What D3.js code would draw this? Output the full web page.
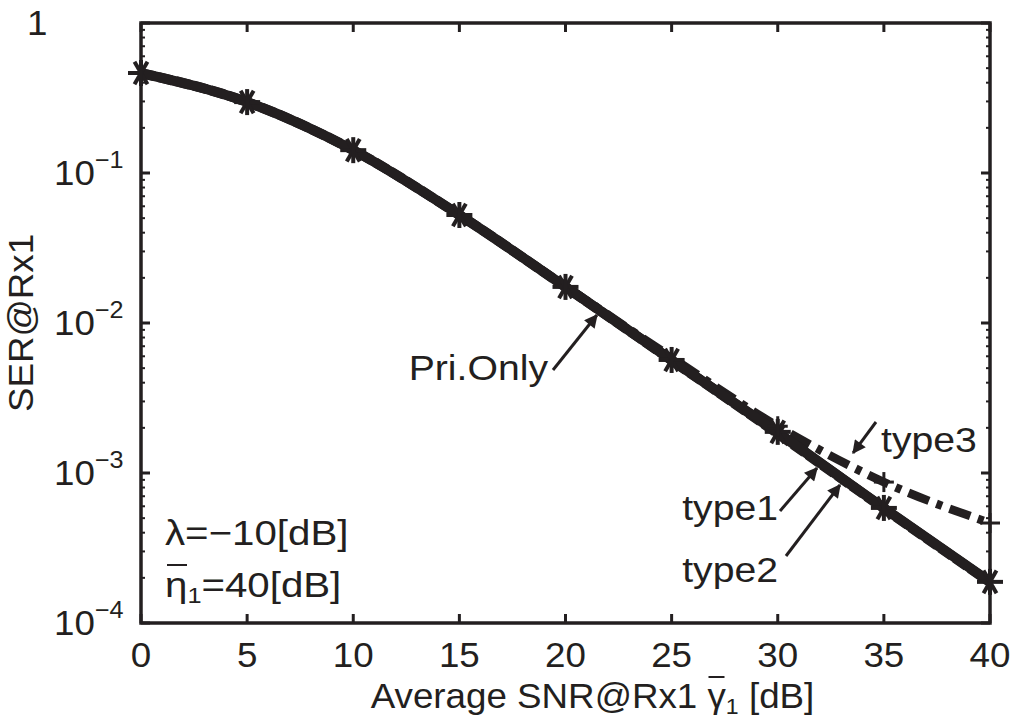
<!DOCTYPE html>
<html>
<head>
<meta charset="utf-8">
<script src="https://cdn.jsdelivr.net/npm/d3@7"></script>
<style>
  body { margin: 0; background: #fff; }
  text { font-family: "Liberation Sans", Arial, sans-serif; fill: #231f20; }
</style>
</head>
<body>
<div class="chart"></div>
<script>
// SER vs average SNR, log y axis

const snr = [0, 5, 10, 15, 20, 25, 30, 35, 40];
const ser_pri = [0.464, 0.297, 0.142, 0.0525, 0.0174, 0.00567, 0.00188, 0.000585, 0.000188];
const ser_type1 = [0.464, 0.297, 0.142, 0.0525, 0.0174, 0.00565, 0.00183, 0.000580, 0.000187];
const ser_type2 = [0.464, 0.297, 0.142, 0.0525, 0.0174, 0.00566, 0.00185, 0.000583, 0.000188];
const ser_type3 = [0.464, 0.297, 0.142, 0.0525, 0.0176, 0.0059, 0.00205, 0.00087, 0.000464];

const x_ticks = [0, 5, 10, 15, 20, 25, 30, 35, 40];
const y_ticks = [1e-4, 1e-3, 1e-2, 1e-1, 1];
const y_tick_exp = ['−4', '−3', '−2', '−1', ''];

const FS = '35px';
const ink = '#231f20';

// text that is a bit wider than Arial, like the original's font
function wide_text(parent, x, y, anchor, sx) {
   return parent.append('g')
      .attr('transform', `translate(${x}, ${y}) scale(${sx}, 1)`)
      .append('text')
      .attr('text-anchor', anchor)
      .style('font-size', FS);
}

function build_container(margin) {
   return d3.select('.chart')
      .append('svg')
      .attr('width', 1021)
      .attr('height', 720)
      .append('g')
      .attr('transform', `translate(${margin.left}, ${margin.top})`);
}

function draw_frame(svg, x, y, width, height) {
   // minor y ticks
   const minor = [];
   for (let k = -4; k < 0; k++) {
      for (let m = 2; m <= 9; m++) minor.push(m * Math.pow(10, k));
   }
   [[0, 4], [width, width - 4]].forEach(([a, b]) => {
      svg.append('g').selectAll('line')
         .data(minor)
         .enter()
         .append('line')
         .attr('x1', a).attr('x2', b)
         .attr('y1', d => y(d)).attr('y2', d => y(d))
         .style('stroke', ink).style('stroke-width', 2);
   });

   // major ticks
   [[0, 9], [width, width - 9]].forEach(([a, b]) => {
      svg.append('g').selectAll('line')
         .data(y_ticks)
         .enter()
         .append('line')
         .attr('x1', a).attr('x2', b)
         .attr('y1', d => y(d)).attr('y2', d => y(d))
         .style('stroke', ink).style('stroke-width', 3);
   });
   [[height, height - 9], [0, 9]].forEach(([a, b]) => {
      svg.append('g').selectAll('line')
         .data(x_ticks)
         .enter()
         .append('line')
         .attr('x1', d => x(d)).attr('x2', d => x(d))
         .attr('y1', a).attr('y2', b)
         .style('stroke', ink).style('stroke-width', 3);
   });

   svg.append('rect')
      .attr('width', width)
      .attr('height', height)
      .style('fill', 'none')
      .style('stroke', ink)
      .style('stroke-width', 3.5);

   // tick labels
   x_ticks.forEach(d => {
      wide_text(svg, x(d), height + 44, 'middle', 1.05).text(d);
   });

   y_ticks.forEach((d, i) => {
      if (d === 1) {
         wide_text(svg, -114, y(d) + 12, 'start', 1.05).text('1');
      } else {
         const t = wide_text(svg, -87, y(d) + 12, 'start', 1.05);
         t.append('tspan').text('10');
         t.append('tspan')
            .attr('dy', -17)
            .style('font-size', '24px')
            .text(y_tick_exp[i]);
      }
   });
}

function draw_lines(svg, x, y) {
   const line = d3.line()
      .x((d, i) => x(snr[i]))
      .y(d => y(d))
      .curve(d3.curveMonotoneX);

   const series = [
      {name: 'type3', values: ser_type3, dash: '22,8,6,8', width: 8.5},
      {name: 'type2', values: ser_type2, dash: null, width: 10},
      {name: 'type1', values: ser_type1, dash: '14,4', width: 10},
      {name: 'Pri.Only', values: ser_pri, dash: null, width: 9},
   ];

   svg.append('g').selectAll('path')
      .data(series)
      .enter()
      .append('path')
      .attr('d', d => line(d.values))
      .style('fill', 'none')
      .style('stroke', ink)
      .style('stroke-width', d => d.width)
      .style('stroke-dasharray', d => d.dash);

   // '*' markers on Pri.Only
   const star = svg.append('g');
   snr.forEach((s, i) => {
      const cx = x(s), cy = y(ser_pri[i]), r = 13;
      [0, 60, 120].forEach(a => {
         const rad = a * Math.PI / 180;
         star.append('line')
            .attr('x1', cx - r * Math.cos(rad)).attr('y1', cy - r * Math.sin(rad))
            .attr('x2', cx + r * Math.cos(rad)).attr('y2', cy + r * Math.sin(rad))
            .style('stroke', ink).style('stroke-width', 4);
      });
      star.append('line')
         .attr('x1', cx).attr('y1', cy - r)
         .attr('x2', cx).attr('y2', cy + r)
         .style('stroke', ink).style('stroke-width', 4);
   });

   // '+' markers on type3
   const plus = svg.append('g');
   snr.slice(6).forEach((s, j) => {
      const i = j + 6;
      const cx = x(s), cy = y(ser_type3[i]), r = 10;
      plus.append('line')
         .attr('x1', cx - r).attr('x2', cx + r)
         .attr('y1', cy).attr('y2', cy)
         .style('stroke', ink).style('stroke-width', 3);
      plus.append('line')
         .attr('x1', cx).attr('x2', cx)
         .attr('y1', cy - r).attr('y2', cy + r)
         .style('stroke', ink).style('stroke-width', 3);
   });
}

function add_annotations(svg, x, y, width, height) {
   svg.append('defs').append('marker')
      .attr('id', 'arrow')
      .attr('viewBox', '0 0 10 10')
      .attr('refX', 9).attr('refY', 5)
      .attr('markerWidth', 5).attr('markerHeight', 4.5)
      .attr('orient', 'auto')
      .append('path')
      .attr('d', 'M0,0 L10,5 L0,10 Z')
      .style('fill', ink);

   // labels with arrow from (ax, ay) to point (px, py) in data units
   const labels = [
      {text: 'Pri.Only', tx: 548, ty: 380, ax: 553, ay: 370, px: 21.48, py: 0.0113},
      {text: 'type3', tx: 881, ty: 452, ax: 876, ay: 422, px: 33.55, py: 0.00136},
      {text: 'type1', tx: 778, ty: 520, ax: 780, ay: 511, px: 31.85, py: 0.00108},
      {text: 'type2', tx: 778, ty: 582, ax: 786, ay: 556, px: 32.93, py: 0.000832},
   ];
   labels.forEach(l => {
      wide_text(svg, l.tx - 141, l.ty - 23, l.text === 'type3' ? 'start' : 'end', 1.12)
         .text(l.text);
      svg.append('line')
         .attr('x1', l.ax - 141).attr('y1', l.ay - 23)
         .attr('x2', x(l.px)).attr('y2', y(l.py))
         .style('stroke', ink)
         .style('stroke-width', 3)
         .attr('marker-end', 'url(#arrow)');
   });

   // parameter text
   wide_text(svg, 24, 522, 'start', 1.15).text('λ=−10[dB]');
   const eta = wide_text(svg, 24, 574, 'start', 1.15);
   eta.append('tspan').text('η');
   eta.append('tspan').attr('dy', 6).style('font-size', '22px').text('1');
   eta.append('tspan').attr('dy', -6).text('=40[dB]');
   svg.append('line')
      .attr('x1', 26).attr('x2', 46)
      .attr('y1', 542).attr('y2', 542)
      .style('stroke', ink).style('stroke-width', 2);

   // axis titles
   svg.append('text')
      .attr('transform', `translate(-108, ${height / 2}) rotate(-90) scale(1.05, 1)`)
      .attr('text-anchor', 'middle')
      .style('font-size', FS)
      .text('SER@Rx1');

   const xl = width / 2 + 27;
   const xt = wide_text(svg, xl, height + 85, 'middle', 1.05);
   xt.append('tspan').text('Average SNR@Rx1 ');
   xt.append('tspan').text('γ');
   xt.append('tspan').attr('dy', 6).style('font-size', '22px').text('1');
   xt.append('tspan').attr('dy', -6).text(' [dB]');
   // overline on gamma
   const gx = xt.node().getStartPositionOfChar(16).x * 1.05 + xl;
   svg.append('line')
      .attr('x1', gx + 1).attr('x2', gx + 17)
      .attr('y1', height + 54).attr('y2', height + 54)
      .style('stroke', ink).style('stroke-width', 2);
}

function main() {
   const margin = {top: 23, left: 141};
   const width = 990 - 141;
   const height = 623 - 23;

   const x = d3.scaleLinear().domain([0, 40]).range([0, width]);
   const y = d3.scaleLog().domain([1e-4, 1]).range([height, 0]);

   const svg = build_container(margin);
   draw_lines(svg, x, y);
   draw_frame(svg, x, y, width, height);
   add_annotations(svg, x, y, width, height);
}

main();
</script>
</body>
</html>
